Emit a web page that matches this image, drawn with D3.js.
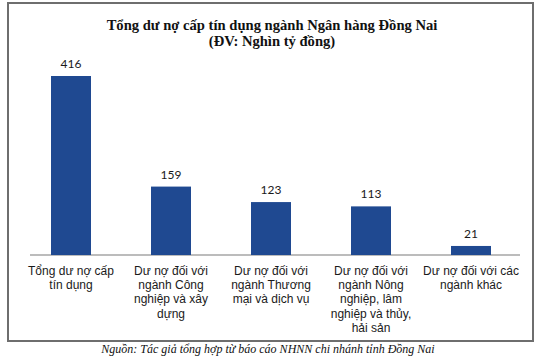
<!DOCTYPE html>
<html>
<head>
<meta charset="utf-8">
<script src="https://cdn.jsdelivr.net/npm/d3@7"></script>
<style>
  body { margin: 0; background: #fff; }
</style>
</head>
<body>
<div id="chart"></div>
<script>
// data
var categories = ["tong", "congnghiep", "thuongmai", "nongnghiep", "khac"];
var values = [416, 159, 123, 113, 21];
var tickLabels = [
  ["Tổng dư nợ cấp", "tín dụng"],
  ["Dư nợ đối với", "ngành Công", "nghiệp và xây", "dựng"],
  ["Dư nợ đối với", "ngành Thương", "mại và dịch vụ"],
  ["Dư nợ đối với", "ngành Nông", "nghiệp, lâm", "nghiệp và thủy,", "hải sản"],
  ["Dư nợ đối với các", "ngành khác"]
];
var titleLines = ["Tổng dư nợ cấp tín dụng ngành Ngân hàng Đồng Nai", "(ĐV: Nghìn tỷ đồng)"];
var sourceNote = "Nguồn: Tác giả tổng hợp từ báo cáo NHNN chi nhánh tỉnh Đồng Nai";

var width = 540, height = 360;

var svg = d3.select("#chart")
    .append("svg")
    .attr("width", width)
    .attr("height", height);

// outer frame
svg.append("rect")
    .attr("x", 8)
    .attr("y", 3)
    .attr("width", 525)
    .attr("height", 338)
    .attr("fill", "none")
    .attr("stroke", "#6e6e6e")
    .attr("stroke-width", 2);

// title
svg.append("g").selectAll("text")
    .data(titleLines)
    .enter().append("text")
    .attr("x", 272)
    .attr("y", function(d, i) { return 30 + i * 16; })
    .attr("text-anchor", "middle")
    .style("font-family", "'Liberation Serif', 'Times New Roman', serif")
    .style("font-weight", "bold")
    .style("font-size", "14.6px")
    .style("fill", "#111")
    .text(function(d) { return d; });

var x = d3.scaleBand()
    .domain(categories)
    .range([21, 521])
    .paddingInner(0.6)
    .paddingOuter(0.3);

var y = d3.scaleLinear()
    .domain([0, 416])
    .range([255, 76]);

// baseline
var xAxis = svg.append("g")
    .attr("transform", "translate(0," + y(0) + ")")
    .call(d3.axisBottom(x).tickSize(0).tickFormat(""));
xAxis.select(".domain")
    .attr("d", "M30,0H520")
    .attr("stroke", "#a6a6a6")
    .attr("stroke-width", 1.5);

// bars
svg.append("g").selectAll("rect")
    .data(values)
    .enter().append("rect")
    .attr("x", function(d, i) { return x(categories[i]); })
    .attr("y", function(d) { return y(d); })
    .attr("width", x.bandwidth())
    .attr("height", function(d) { return y(0) - y(d); })
    .attr("fill", "#1f4991");

// value labels
svg.append("g").selectAll("text")
    .data(values)
    .enter().append("text")
    .attr("x", function(d, i) { return x(categories[i]) + x.bandwidth() / 2; })
    .attr("y", function(d) { return y(d) - 8; })
    .attr("text-anchor", "middle")
    .style("font-family", "Lato, 'Open Sans', sans-serif")
    .style("font-size", "12px")
    .style("fill", "#1a1a1a")
    .text(function(d) { return d; });

// category labels, wrapped as in the picture
var labels = svg.append("g").selectAll("text")
    .data(tickLabels)
    .enter().append("text")
    .attr("text-anchor", "middle")
    .style("font-family", "'Liberation Sans', Arial, sans-serif")
    .style("font-size", "12px")
    .style("fill", "#1a1a1a");

labels.each(function(lines, i) {
  var cx = x(categories[i]) + x.bandwidth() / 2;
  d3.select(this).selectAll("tspan")
    .data(lines)
    .enter().append("tspan")
    .attr("x", cx)
    .attr("y", function(d, j) { return 275 + j * 14.2; })
    .text(function(d) { return d; });
});

// source note
svg.append("text")
    .attr("x", 268)
    .attr("y", 353)
    .attr("text-anchor", "middle")
    .style("font-family", "'Liberation Serif', 'Times New Roman', serif")
    .style("font-style", "italic")
    .style("font-size", "12px")
    .style("fill", "#111")
    .text(sourceNote);
</script>
</body>
</html>
